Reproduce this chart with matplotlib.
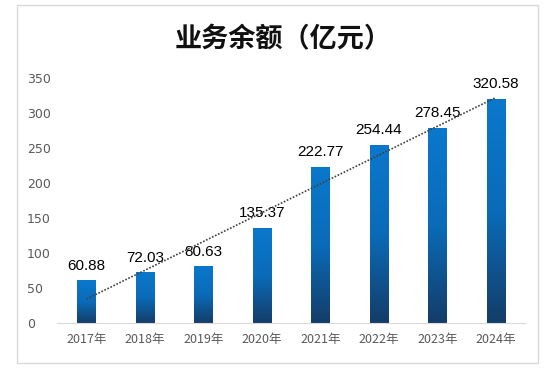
import numpy as np
import matplotlib
matplotlib.use("Agg")
import matplotlib.pyplot as plt
from matplotlib.colors import LinearSegmentedColormap
from matplotlib.patches import Rectangle

plt.rcParams['font.family'] = ['Noto Sans CJK SC', 'DejaVu Sans']

years = ["2017年", "2018年", "2019年", "2020年", "2021年", "2022年", "2023年", "2024年"]
values = [60.88, 72.03, 80.63, 135.37, 222.77, 254.44, 278.45, 320.58]

fig = plt.figure(figsize=(5.5, 3.75), dpi=100)
# outer chart border
fig.patches.append(Rectangle((17 / 550, 12 / 375), 521 / 550, 358 / 375,
                             transform=fig.transFigure, fill=False,
                             edgecolor="#d9d9d9", linewidth=1))
fig.text(0.515, 0.895, "业务余额（亿元）", ha="center", va="center",
         fontsize=19.5, fontweight="bold", color="#111111")

ax = fig.add_axes([0.104, 0.139, 0.851, 0.653])
x = np.arange(len(years))
bars = ax.bar(x, values, width=0.31, color="none", edgecolor="none")

cmap = LinearSegmentedColormap.from_list("g", ["#143d68", "#0a6bb8", "#0b78cc"])
grad = np.linspace(0, 1, 256).reshape(-1, 1)
for b in bars:
    x0, w, h = b.get_x(), b.get_width(), b.get_height()
    im = ax.imshow(grad, cmap=cmap, aspect="auto", origin="lower",
                   extent=[x0, x0 + w, 0, h], zorder=2)
    im.set_clip_path(b)

for xi, v in zip(x, values):
    ax.text(xi, v + 11, f"{v:.2f}", ha="center", va="bottom",
            fontsize=11, color="#000000", family=["Liberation Sans"])

# linear trend line
k, c = np.polyfit(x, values, 1)
ax.plot(x, k * x + c, linestyle=(0, (1, 1)), color="#404040", linewidth=1.2, zorder=3)

ax.set_xlim(-0.5, 7.5)
ax.set_ylim(0, 350)
ax.set_yticks(range(0, 351, 50))
ax.set_xticks(x)
ax.set_xticklabels(years)
for s in ["top", "right", "left"]:
    ax.spines[s].set_visible(False)
ax.spines["bottom"].set_color("#d9d9d9")
ax.tick_params(axis="both", length=0, colors="#595959", labelsize=9)
ax.tick_params(axis="y", pad=22)
ax.tick_params(axis="x", pad=7)
for lab in ax.get_yticklabels():
    lab.set_horizontalalignment("left")
    lab.set_family(["DejaVu Sans"])

fig.savefig("out.png", dpi=100)
